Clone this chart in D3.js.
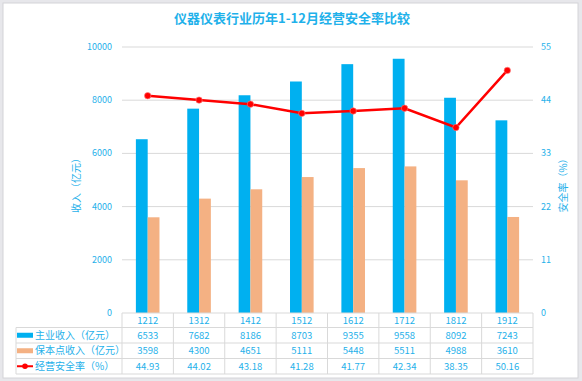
<!DOCTYPE html>
<html><head><meta charset="utf-8">
<script src="https://cdn.jsdelivr.net/npm/d3@7"></script>
<style>
body{margin:0;background:#e7e7eb;}
svg{display:block;font-family:"Noto Sans CJK SC","Open Sans",sans-serif;}
</style></head><body>
<svg id="c" width="582" height="381"></svg>
<script>
const categories = ["1212","1312","1412","1512","1612","1712","1812","1912"];
const mainIncome = [6533,7682,8186,8703,9355,9558,8092,7243];
const breakEvenIncome = [3598,4300,4651,5111,5448,5511,4988,3610];
const safetyRate = [44.93,44.02,43.18,41.28,41.77,42.34,38.35,50.16];
const leftTicks = [0,2000,4000,6000,8000,10000];
const rightTicks = [0,11,22,33,44,55];
const seriesNames = ["主业收入（亿元）","保本点收入（亿元）","经营安全率（%）"];

const blue="#00b0f0", orange="#f4b183", red="#ff0000", txt="#1fb1ea", grid="#d9d9d9";
const svg=d3.select("#c");
svg.append("rect").attr("x",3).attr("y",3).attr("width",575).attr("height",375).attr("fill","#fff").attr("stroke","#d4d4d8");

const L=122,R=533,T=47,B=313;
const x=d3.scaleBand().domain(categories).range([L,R]);
const yL=d3.scaleLinear().domain([0,10000]).range([B,T]);
const yR=d3.scaleLinear().domain([0,55]).range([B,T]);

svg.append("text").attr("x",292).attr("y",23).attr("text-anchor","middle")
 .attr("font-size",13).attr("font-weight","bold").attr("fill",txt).text("仪器仪表行业历年1-12月经营安全率比较");

// grid
svg.append("g").selectAll("line").data(leftTicks.slice(1)).join("line")
 .attr("x1",L).attr("x2",R).attr("y1",d=>yL(d)).attr("y2",d=>yL(d)).attr("stroke",grid);

// axis labels
svg.append("g").selectAll("text").data(leftTicks).join("text")
 .attr("x",112).attr("y",d=>yL(d)+3).attr("text-anchor","end").attr("font-size",9).attr("fill",txt).text(d=>d);
svg.append("g").selectAll("text").data(rightTicks).join("text")
 .attr("x",541).attr("y",d=>yR(d)+3).attr("text-anchor","start").attr("font-size",9).attr("fill",txt).text(d=>d);

svg.append("text").attr("transform","translate(80,183) rotate(-90)").attr("text-anchor","middle")
 .attr("font-size",10).attr("fill",txt).text("收入（亿元）");
svg.append("text").attr("transform","translate(567,183) rotate(-90)").attr("text-anchor","middle")
 .attr("font-size",10).attr("fill",txt).text("安全率（%）");

const bw=11.8;
svg.append("g").selectAll("rect").data(mainIncome).join("rect")
 .attr("x",(d,i)=>x(categories[i])+x.bandwidth()/2-bw).attr("width",bw)
 .attr("y",d=>yL(d)).attr("height",d=>B-yL(d)).attr("fill",blue);
svg.append("g").selectAll("rect").data(breakEvenIncome).join("rect")
 .attr("x",(d,i)=>x(categories[i])+x.bandwidth()/2).attr("width",bw)
 .attr("y",d=>yL(d)).attr("height",d=>B-yL(d)).attr("fill",orange);

const line=d3.line().x((d,i)=>x(categories[i])+x.bandwidth()/2).y(d=>yR(d));
svg.append("path").datum(safetyRate).attr("d",line).attr("fill","none").attr("stroke",red).attr("stroke-width",2.5);
svg.append("g").selectAll("circle").data(safetyRate).join("circle")
 .attr("cx",(d,i)=>x(categories[i])+x.bandwidth()/2).attr("cy",d=>yR(d)).attr("r",3.2)
 .attr("fill",red).attr("stroke","#ff8080").attr("stroke-width",0.6);

// table
const rowY=[313,327.5,343,358.5,374];
const tg=svg.append("g").attr("stroke",grid).attr("fill","none");
tg.append("line").attr("x1",L).attr("x2",R).attr("y1",B).attr("y2",B);
[1,2,3,4].forEach(k=>tg.append("line").attr("x1",16).attr("x2",R).attr("y1",rowY[k]).attr("y2",rowY[k]));
tg.append("line").attr("x1",16).attr("x2",16).attr("y1",rowY[1]).attr("y2",rowY[4]);
const edges=categories.map(c=>x(c)).concat([R]);
tg.selectAll(".v").data(edges).join("line").attr("x1",d=>d).attr("x2",d=>d).attr("y1",B).attr("y2",rowY[4]);

const rows=[categories,mainIncome,breakEvenIncome,safetyRate.map(d=>d.toFixed(2))];
rows.forEach((r,k)=>{
  svg.append("g").selectAll("text").data(r).join("text")
   .attr("x",(d,i)=>x(categories[i])+x.bandwidth()/2).attr("y",(rowY[k]+rowY[k+1])/2+3.5)
   .attr("text-anchor","middle").attr("font-size",9.5).attr("fill",txt).text(d=>d);
});
// legend
const ly=k=>(rowY[k+1]+rowY[k+2])/2;
svg.append("rect").attr("x",17).attr("y",ly(0)-2.5).attr("width",16).attr("height",5).attr("fill",blue);
svg.append("rect").attr("x",17).attr("y",ly(1)-2.5).attr("width",16).attr("height",5).attr("fill",orange);
svg.append("line").attr("x1",17).attr("x2",33).attr("y1",ly(2)).attr("y2",ly(2)).attr("stroke",red).attr("stroke-width",2);
svg.append("circle").attr("cx",25).attr("cy",ly(2)).attr("r",2.8).attr("fill",red);
seriesNames.forEach((s,k)=>svg.append("text").attr("x",35).attr("y",ly(k)+3.5).attr("font-size",10).attr("fill",txt).text(s));
</script></body></html>
